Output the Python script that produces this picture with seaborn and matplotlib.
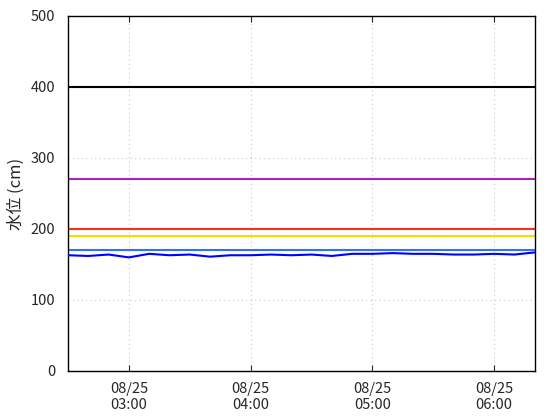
import matplotlib
matplotlib.use("Agg")
import matplotlib.pyplot as plt
import matplotlib.dates as mdates
import numpy as np
import pandas as pd
import seaborn as sns

# water level readings every 10 minutes, 08/25 02:30 - 06:20
times = pd.date_range("2023-08-25 02:30", "2023-08-25 06:20", freq="10min")
level = [163, 162, 164, 160, 165, 163, 164, 161, 163, 163, 164, 163,
         164, 162, 165, 165, 166, 165, 165, 164, 164, 165, 164, 167]

# reference levels (cm) and their colours
ref_levels = [400, 270, 200, 190, 170]
ref_colors = ["#000000", "#b020c0", "#ff3010", "#f0e000", "#3070ff"]

sns.set_style("white")
plt.rcParams["font.family"] = ["Noto Sans CJK JP", "DejaVu Sans"]

fig = plt.figure(figsize=(5.6, 4.2), dpi=100)
ax = fig.add_axes([0.1214, 0.1167, 0.8336, 0.8453])

for v, c in zip(ref_levels, ref_colors):
    ax.axhline(v, color=c, lw=1.5, zorder=2)

df = pd.DataFrame({"time": times, "level": level})
sns.lineplot(data=df, x="time", y="level", color="#0000ff", lw=1.5, ax=ax, zorder=3)

ax.set_xlim(times[0], times[-1])
ax.set_ylim(0, 500)
ax.set_yticks(range(0, 501, 100))
ax.xaxis.set_major_locator(mdates.HourLocator())
ax.xaxis.set_major_formatter(mdates.DateFormatter("%m/%d\n%H:%M"))
ax.grid(True, color="#c8c8c8", linestyle=(0, (1, 3)), lw=0.8)
ax.tick_params(axis="both", direction="in", length=4, labelsize=10.5,
               top=True, bottom=True, left=False)
ax.tick_params(axis="x", pad=8)
ax.tick_params(axis="y", pad=9)
for s in ax.spines.values():
    s.set_color("black")
    s.set_linewidth(1.0)

ax.set_xlabel("")
ax.set_ylabel("水位 (cm)", fontsize=12, labelpad=4)

fig.savefig("out.png", dpi=100)
